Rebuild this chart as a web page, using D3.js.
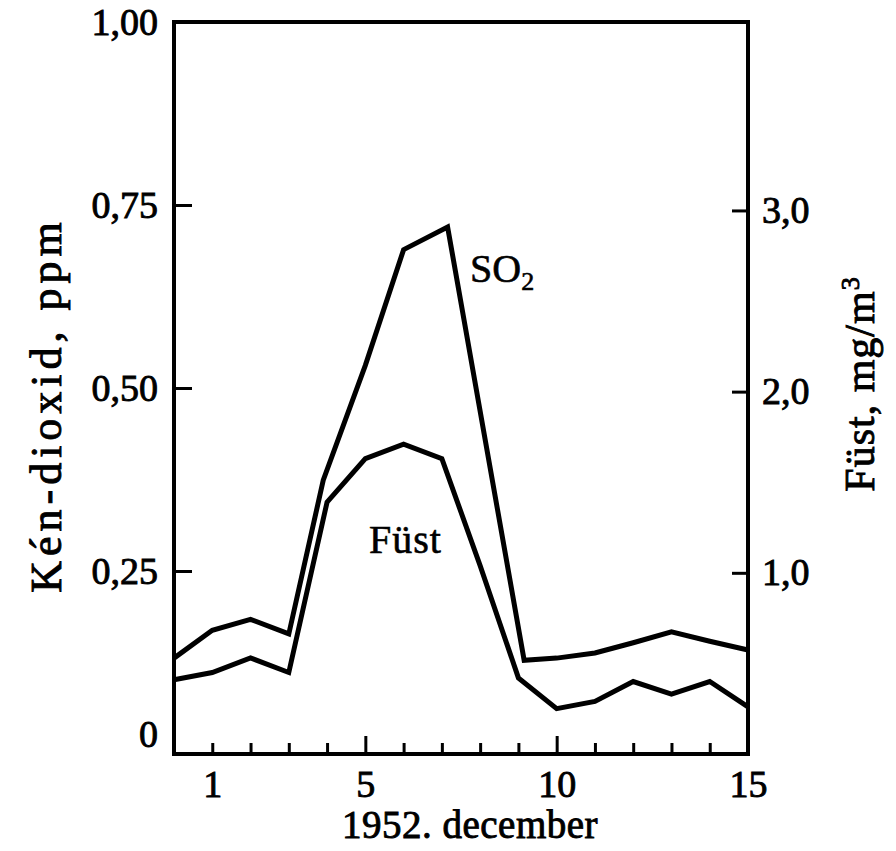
<!DOCTYPE html>
<html>
<head>
<meta charset="utf-8">
<script src="https://cdn.jsdelivr.net/npm/d3@7"></script>
<style>
  html, body { margin: 0; padding: 0; background: #fff; }
  svg { display: block; }
  text { font-family: "Liberation Serif", "Times New Roman", serif; fill: #000; }
</style>
</head>
<body>
<div id="chart"></div>
<script>
// ---- data ----
const so2Days   = [0, 1, 2, 3, 3.9, 5, 6, 7.15, 9.15, 10, 11, 12, 13, 14, 15];
const so2Values = [0.131, 0.169, 0.184, 0.164, 0.374, 0.531, 0.689, 0.72, 0.128, 0.131, 0.138, 0.152, 0.167, 0.154, 0.142];
const smokeDays   = [0, 1, 2, 3, 4, 5, 6, 7, 8, 9, 10, 11, 12, 13, 14, 15];
const smokeValues = [0.41, 0.45, 0.53, 0.45, 1.39, 1.63, 1.71, 1.63, 1.04, 0.42, 0.25, 0.29, 0.40, 0.33, 0.40, 0.26];
const leftTicks  = [0, 0.25, 0.5, 0.75, 1.0];
const rightTicks = [1.0, 2.0, 3.0];
const dayTicks   = [1, 2, 3, 4, 5, 6, 7, 8, 9, 10, 11, 12, 13, 14, 15];
const dayLabels  = [1, 5, 10, 15];
const majorDays  = [5, 10];
const xTitle = "1952. december";
const leftTitle = "Kén-dioxid, ppm";
const rightTitle = "Füst, mg/m";
const so2Label = "SO";
const smokeLabel = "Füst";

const W = 896, H = 851;
const svg = d3.select("#chart").append("svg").attr("width", W).attr("height", H);

const x  = d3.scaleLinear().domain([0, 15]).range([174, 748]);
const yL = d3.scaleLinear().domain([0, 1]).range([754, 22]);
const yR = d3.scaleLinear().domain([0, 4.04]).range([754, 22]);

const loc = d3.formatLocale({decimal: ",", thousands: " ", grouping: [3], currency: ["", ""]});
const fL = loc.format(".2f"), fR = loc.format(".1f");
const FS = 38;
const SW = 0.9;

// frame
svg.append("rect").attr("x", x(0)).attr("y", yL(1)).attr("width", x(15) - x(0)).attr("height", yL(0) - yL(1))
  .attr("fill", "none").attr("stroke", "#000").attr("stroke-width", 4);

// left axis
const gL = svg.append("g").attr("transform", `translate(${x(0)},0)`)
  .call(d3.axisLeft(yL).tickValues(leftTicks).tickSize(-18).tickSizeOuter(0).tickPadding(16)
    .tickFormat(d => d === 0 ? "0" : fL(d)));
gL.select(".domain").remove();
gL.selectAll(".tick line").attr("stroke", "#000").attr("stroke-width", 3);
gL.selectAll(".tick text").attr("font-size", FS).attr("font-family", "Liberation Serif")
  .attr("stroke", "#000").attr("stroke-width", SW)
  .attr("dy", d => d === 0 ? "-0.2em" : "0.32em");

// right axis
const gR = svg.append("g").attr("transform", `translate(${x(15)},0)`)
  .call(d3.axisRight(yR).tickValues(rightTicks).tickSize(-16).tickSizeOuter(0).tickPadding(14)
    .tickFormat(fR));
gR.select(".domain").remove();
gR.selectAll(".tick line").attr("stroke", "#000").attr("stroke-width", 3);
gR.selectAll(".tick text").attr("font-size", FS).attr("font-family", "Liberation Serif")
  .attr("stroke", "#000").attr("stroke-width", SW);

// bottom axis
const gB = svg.append("g").attr("transform", `translate(0,${yL(0)})`)
  .call(d3.axisBottom(x).tickValues(dayTicks).tickSizeOuter(0).tickSize(0).tickPadding(16)
    .tickFormat(d => dayLabels.includes(d) ? String(d) : ""));
gB.select(".domain").remove();
gB.selectAll(".tick line").attr("y2", d => majorDays.includes(d) ? -18 : -11)
  .attr("stroke", "#000").attr("stroke-width", 3);
gB.selectAll(".tick text").attr("font-size", FS).attr("font-family", "Liberation Serif")
  .attr("stroke", "#000").attr("stroke-width", SW);

// lines
const lineSO2 = d3.line().x(d => x(d[0])).y(d => yL(d[1]));
const lineSmoke = d3.line().x(d => x(d[0])).y(d => yR(d[1]));
svg.append("path").datum(d3.zip(so2Days, so2Values)).attr("d", lineSO2)
  .attr("fill", "none").attr("stroke", "#000").attr("stroke-width", 5).attr("stroke-linejoin", "miter");
svg.append("path").datum(d3.zip(smokeDays, smokeValues)).attr("d", lineSmoke)
  .attr("fill", "none").attr("stroke", "#000").attr("stroke-width", 5).attr("stroke-linejoin", "miter");

// series labels
const so2T = svg.append("text").attr("x", 470).attr("y", 282).attr("font-size", 40)
  .attr("stroke", "#000").attr("stroke-width", 0.6).text(so2Label);
so2T.append("tspan").attr("font-size", 26).attr("dy", 8).text("2");
svg.append("text").attr("x", 369).attr("y", 553).attr("font-size", 40).attr("letter-spacing", 1)
  .attr("stroke", "#000").attr("stroke-width", 0.6).text(smokeLabel);

// axis titles
svg.append("text").attr("x", 470).attr("y", 838).attr("text-anchor", "middle").attr("font-size", 39)
  .attr("letter-spacing", 0.5)
  .attr("stroke", "#000").attr("stroke-width", SW).text(xTitle);
svg.append("text").attr("transform", "translate(61,405) rotate(-90)").attr("text-anchor", "middle")
  .attr("font-size", 44).attr("letter-spacing", 5)
  .attr("stroke", "#000").attr("stroke-width", SW).text(leftTitle);
const rt = svg.append("text").attr("transform", "translate(874,384) rotate(-90)").attr("text-anchor", "middle")
  .attr("font-size", 42).attr("letter-spacing", 1)
  .attr("stroke", "#000").attr("stroke-width", SW).text(rightTitle);
rt.append("tspan").attr("font-size", 26).attr("dy", -15).text("3");
</script>
</body>
</html>
